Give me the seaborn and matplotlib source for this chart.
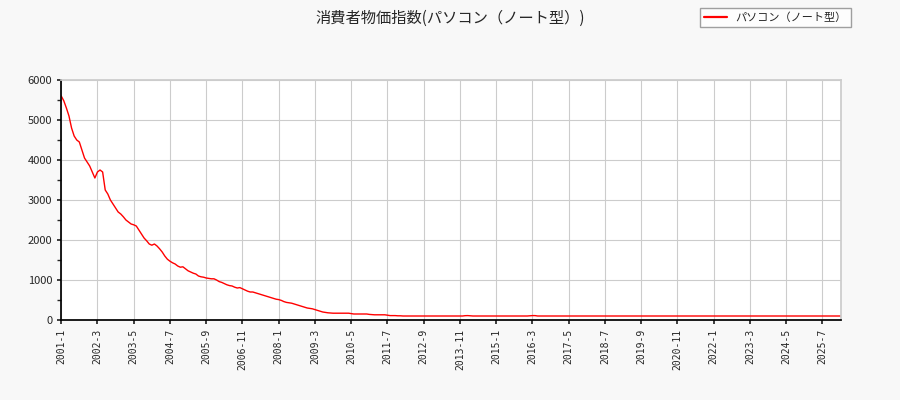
import matplotlib
matplotlib.use("Agg")
import matplotlib.pyplot as plt
import matplotlib.ticker as mticker
import numpy as np
import pandas as pd
import seaborn as sns

# 月次データ (2001-1 〜 2026-2)
y2001 = [5600, 5480, 5300, 5100, 4800, 4600, 4500, 4450, 4250, 4050, 3950, 3850]
y2002 = [3700, 3550, 3700, 3750, 3700, 3250, 3150, 3000, 2900, 2800, 2700, 2650]
y2003 = [2580, 2500, 2450, 2400, 2380, 2350, 2250, 2150, 2050, 1980, 1900, 1870]
y2004 = [1900, 1850, 1780, 1700, 1600, 1520, 1470, 1430, 1400, 1350, 1320, 1330]
y2005 = [1280, 1230, 1200, 1170, 1150, 1100, 1080, 1070, 1050, 1040, 1030, 1030]
y2006 = [1000, 960, 940, 910, 880, 860, 850, 820, 800, 810, 780, 750]
y2007 = [720, 700, 700, 680, 660, 640, 620, 600, 580, 560, 540, 520]
y2008 = [510, 490, 460, 440, 430, 420, 400, 380, 360, 340, 320, 300]
y2009 = [290, 280, 260, 240, 220, 200, 190, 180, 175, 170, 170, 170]
y2010 = [170, 170, 170, 170, 160, 150, 150, 150, 150, 150, 150, 140]
y2011 = [135, 130, 130, 130, 130, 130, 120, 110, 110, 110, 105, 105]
y2012 = [100] * 12
y2013 = [100] * 12
y2014 = [108, 110, 105, 100, 100, 100, 100, 100, 100, 100, 100, 100]
y2015 = [100] * 12
y2016 = [100, 105, 110, 110, 100, 100, 100, 100, 100, 100, 100, 100]
y2017_2025 = [100] * (12 * 9)
y2026 = [100, 100]

values = (y2001 + y2002 + y2003 + y2004 + y2005 + y2006 + y2007 + y2008 + y2009
          + y2010 + y2011 + y2012 + y2013 + y2014 + y2015 + y2016 + y2017_2025 + y2026)
labels = [f"{2001 + i // 12}-{i % 12 + 1}" for i in range(len(values))]
df = pd.DataFrame({"idx": range(len(values)), "value": values})

sns.set_theme(style="whitegrid")
plt.rcParams["font.family"] = ["Noto Sans CJK JP", "DejaVu Sans"]

fig = plt.figure(figsize=(9, 4), dpi=100, facecolor="#f8f8f8")
ax = fig.add_axes([0.068, 0.2, 0.866, 0.6])
ax.set_facecolor("white")

sns.lineplot(data=df, x="idx", y="value", ax=ax, color="red", linewidth=1,
             label="パソコン（ノート型）", legend=False)

ax.set_xlim(0, len(values) - 1)
ax.set_ylim(0, 6000)
tick_pos = list(range(0, len(values), 14))
ax.set_xticks(tick_pos)
ax.set_xticklabels([labels[i] for i in tick_pos], rotation=90, fontsize=7,
                   family="DejaVu Sans Mono")
ax.yaxis.set_major_locator(mticker.MultipleLocator(1000))
ax.yaxis.set_minor_locator(mticker.MultipleLocator(500))
ax.tick_params(axis="y", labelsize=8, which="both", left=True, length=3)
ax.tick_params(axis="x", bottom=True, length=3)
ax.grid(True, color="#cccccc", linewidth=0.8)
ax.set_xlabel("")
ax.set_ylabel("")
for s in ax.spines.values():
    s.set_color("#cccccc")
ax.spines["left"].set_color("black")
ax.spines["bottom"].set_color("black")

fig.suptitle("消費者物価指数(パソコン（ノート型）)", y=0.975, fontsize=11)
leg = fig.legend(loc="upper right", bbox_to_anchor=(0.952, 0.995), fontsize=8,
                 frameon=True, fancybox=False, edgecolor="#888888")
for h in leg.get_lines():
    h.set_linewidth(1.6)

fig.savefig("out.png", dpi=100, facecolor=fig.get_facecolor())
